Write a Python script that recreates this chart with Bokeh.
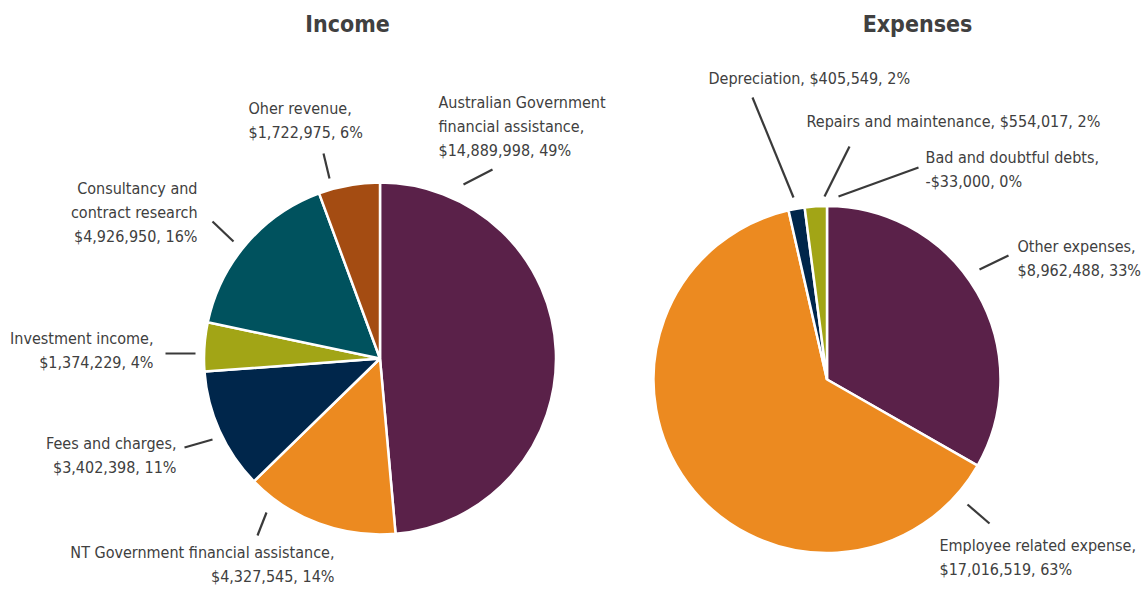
import math
from bokeh.plotting import figure
from bokeh.models import Range1d, ColumnDataSource
from bokeh.core.properties import value
from bokeh.embed import file_html
from bokeh.resources import INLINE

# ---------------- data ----------------
income_names = [
    ["Australian Government", "financial assistance,"],
    ["NT Government financial assistance,"],
    ["Fees and charges,"],
    ["Investment income,"],
    ["Consultancy and", "contract research"],
    ["Oher revenue,"],
]
income_values = [14889998, 4327545, 3402398, 1374229, 4926950, 1722975]
income_colors = ["#5a2149", "#ec8a20", "#00264b", "#a2a516", "#00525e", "#a44c12"]

expense_names = [
    ["Other expenses,"],
    ["Employee related expense,"],
    ["Depreciation,"],
    ["Repairs and maintenance,"],
    ["Bad and doubtful debts,"],
]
expense_values = [8962488, 17016519, 405549, 554017, -33000]
expense_colors = ["#5a2149", "#ec8a20", "#00264b", "#a2a516", "#ffffff"]
expense_inline = [False, False, True, True, False]

# ---------------- layout (screen px) ----------------
W, H = 1144, 590
def X(sx): return sx
def Y(sy): return H - sy

FONT = "DejaVu Sans Condensed"
TXT = "#404040"

p = figure(width=W, height=H, output_backend="svg", toolbar_location=None,
           x_range=Range1d(0, W), y_range=Range1d(0, H), min_border=0)
p.axis.visible = False
p.grid.visible = False
p.outline_line_color = None
p.background_fill_color = "white"
p.border_fill_color = "white"


def fmt_money(v):
    s = "${:,}".format(abs(v))
    return ("-" + s) if v < 0 else s


def draw_pie(vals, colors, cx, cy, r):
    pos = [max(v, 0) for v in vals]
    tot = sum(pos)
    starts, ends = [], []
    acc = 0.0
    for v in pos:
        starts.append(math.pi / 2 - 2 * math.pi * acc / tot)
        acc += v
        ends.append(math.pi / 2 - 2 * math.pi * acc / tot)
    keep = [i for i, v in enumerate(pos) if v > 0]
    src = ColumnDataSource(dict(
        x=[X(cx)] * len(keep), y=[Y(cy)] * len(keep),
        s=[starts[i] for i in keep], e=[ends[i] for i in keep],
        c=[colors[i] for i in keep]))
    p.wedge(x="x", y="y", radius=r, start_angle="s", end_angle="e",
            direction="clock", fill_color="c", line_color="white",
            line_width=2.5, source=src)
    return tot


inc_tot = draw_pie(income_values, income_colors, 379.5, 358, 176)
exp_tot = draw_pie(expense_values, expense_colors, 826.5, 379, 173.5)


def label_lines(names, vals, tot, inline=None):
    out = []
    for i, (nm, v) in enumerate(zip(names, vals)):
        pct = int(round(100 * v / tot))
        amt = "{}, {}%".format(fmt_money(v), pct)
        if inline and inline[i]:
            out.append(nm[:-1] + [nm[-1] + " " + amt])
        else:
            out.append(nm + [amt])
    return out


inc_lines = label_lines(income_names, income_values, inc_tot)
exp_lines = label_lines(expense_names, expense_values, exp_tot, expense_inline)

inc_anchor = [(438, 102, "left"), (334, 552, "right"), (176, 443, "right"),
              (153, 338, "right"), (197, 188, "right"), (248, 108, "left")]
exp_anchor = [(1017, 246, "left"), (939, 545, "left"), (708, 78, "left"),
              (806, 121, "left"), (925, 157, "left")]
LH = 23.8

tx, ty, tt, ta = [], [], [], []
for lines, anchors in ((inc_lines, inc_anchor), (exp_lines, exp_anchor)):
    for ls, (ax, ay, al) in zip(lines, anchors):
        for k, t in enumerate(ls):
            tx.append(X(ax)); ty.append(Y(ay + k * LH)); tt.append(t); ta.append(al)

tsrc = ColumnDataSource(dict(x=tx, y=ty, t=tt, a=ta))
p.text(x="x", y="y", text="t", text_align="a", text_baseline="middle",
       text_font=value(FONT), text_font_size="16px", text_color=TXT, source=tsrc)

leaders = [
    (463, 184, 492, 169), (323, 153, 329, 178), (212, 221, 233, 241),
    (165, 353, 195, 353), (184, 447, 212, 439), (266, 512, 257, 535),
    (752, 97, 793, 197), (849, 146, 824, 196), (918, 167, 838, 196),
    (979, 269, 1008, 255), (967, 504, 989, 523),
]
p.segment(x0=[X(a[0]) for a in leaders], y0=[Y(a[1]) for a in leaders],
          x1=[X(a[2]) for a in leaders], y1=[Y(a[3]) for a in leaders],
          line_color="#3a3a3a", line_width=2.2)

p.text(x=[X(347), X(917)], y=[Y(23), Y(23)], text=["Income", "Expenses"],
       text_align="center", text_baseline="middle", text_font=value(FONT),
       text_font_style="bold", text_font_size="23px", text_color=TXT)

open("out.html", "w").write(file_html(p, INLINE))
